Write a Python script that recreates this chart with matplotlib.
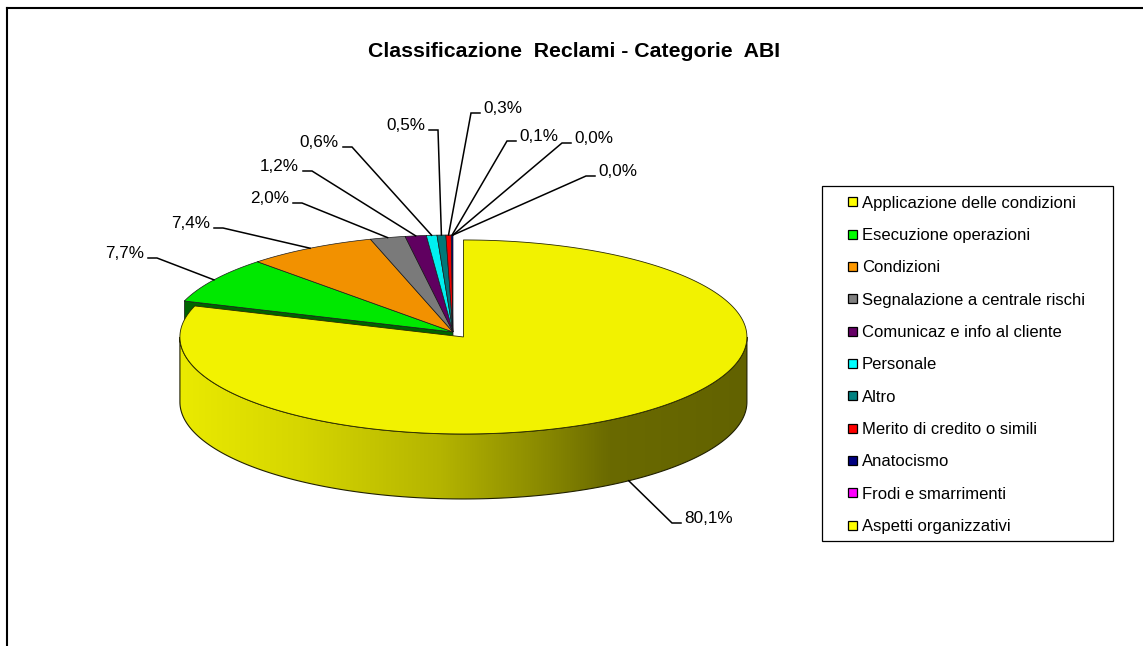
import numpy as np
import matplotlib
matplotlib.use('Agg')
import matplotlib.pyplot as plt
from matplotlib.patches import Polygon, Rectangle
from matplotlib.colors import LinearSegmentedColormap

plt.rcParams['font.family'] = ['Liberation Sans', 'DejaVu Sans']

# data
categories = ['Applicazione delle condizioni', 'Esecuzione operazioni', 'Condizioni',
              'Segnalazione a centrale rischi', 'Comunicaz e info al cliente', 'Personale',
              'Altro', 'Merito di credito o simili', 'Anatocismo', 'Frodi e smarrimenti',
              'Aspetti organizzativi']
shares = [80.1, 7.7, 7.4, 2.0, 1.2, 0.6, 0.5, 0.3, 0.1, 0.0, 0.0]
labels = ['80,1%', '7,7%', '7,4%', '2,0%', '1,2%', '0,6%', '0,5%', '0,3%', '0,1%', '0,0%', '0,0%']

# styles
base_colors = ['#FFFF00', '#00FF00', '#FF9900', '#808080', '#660066', '#00FFFF',
               '#008080', '#FF0000', '#000080', '#FF00FF', '#FFFF00']
top_colors = ['#F2F200', '#00E800', '#F29100', '#7A7A7A', '#600060', '#00F0F0',
              '#007878', '#F00000', '#000078', '#F000F0', '#F2F200']

# leader line elbows (label positions, as moved by hand in the original)
elbows = [(672, 523), (157, 258), (223, 228), (302, 203), (312, 171), (352, 147),
          (438, 130), (471, 113), (507, 141), (562, 143), (586, 176)]

W, H = 1143, 646
fig = plt.figure(figsize=(W / 100, H / 100), dpi=100)
ax = fig.add_axes([0, 0, 1, 1])

# pie geometry (pixels)
cx, cy = 453, 332
rx, ry = 283.5, 97
depth = 65
explode = 0.063

total = sum(shares)
bounds = 90 - 360 * np.cumsum([0] + shares) / total


def rim(t, x0, y0):
    t = np.radians(t)
    return x0 + rx * np.cos(t), y0 - ry * np.sin(t)


def arc(t1, t2, x0, y0, n=200):
    ts = np.linspace(t1, t2, n)
    xs, ys = rim(ts, x0, y0)
    return list(zip(xs, ys))


mids = (bounds[:-1] + bounds[1:]) / 2
ox = explode * rx * np.cos(np.radians(mids[0]))
oy = -explode * ry * np.sin(np.radians(mids[0]))
yx, yy = cx + ox, cy + oy

# visible cut face of the second slice
a1 = bounds[1]
px, py = rim(a1, cx, cy)
ax.add_patch(Polygon([(cx, cy), (px, py), (px, py + depth), (cx, cy + depth)],
                     closed=True, facecolor='#006400', edgecolor='#1a1a1a', lw=0.5, zorder=1))

# top faces of the back slices
for i in range(1, len(shares)):
    if shares[i] <= 0:
        continue
    pts = [(cx, cy)] + arc(bounds[i], bounds[i + 1], cx, cy)
    ax.add_patch(Polygon(pts, closed=True, facecolor=top_colors[i],
                         edgecolor='#1a1a1a', lw=0.5, zorder=2))

# front wall of the big slice with horizontal shading
top_arc = arc(-180, 0, yx, yy)
bot_arc = [(x, y + depth) for x, y in top_arc][::-1]
side = Polygon(top_arc + bot_arc, closed=True, facecolor='none',
               edgecolor='#202000', lw=0.8, zorder=3.5)
ax.add_patch(side)
shade = LinearSegmentedColormap.from_list(
    'side', [(0.0, '#EAEA00'), (0.21, '#D6D600'), (0.46, '#B4B400'),
             (0.63, '#8C8C00'), (0.76, '#6A6A00'), (1.0, '#626200')])
grad = np.linspace(0, 1, 512).reshape(1, -1)
im = ax.imshow(grad, cmap=shade, extent=[yx - rx, yx + rx, yy + ry + depth, yy - 5],
               aspect='auto', zorder=3, interpolation='bilinear')
im.set_clip_path(side)

# top face of the big slice
pts = [(yx, yy)] + arc(bounds[0], bounds[1], yx, yy, n=600)
ax.add_patch(Polygon(pts, closed=True, facecolor=top_colors[0],
                     edgecolor='#2a2a00', lw=0.6, zorder=4))

# data labels with leader lines
for i, (lab, (ex, ey)) in enumerate(zip(labels, elbows)):
    if i == 0:
        axp, ayp = rim(mids[0], yx, yy)
        ayp += depth
    else:
        axp, ayp = rim(mids[i], cx, cy)
    if ex < axp:
        hx = ex - 9
        ax.text(hx - 4, ey, lab, ha='right', va='baseline', fontsize=12.3, zorder=6)
    else:
        hx = ex + 9
        ax.text(hx + 3, ey, lab, ha='left', va='baseline', fontsize=12.3, zorder=6)
    ax.plot([axp, ex, hx], [ayp, ey, ey], color='black', lw=1.1, zorder=5,
            solid_joinstyle='miter')

# title
ax.text(574, 57, 'Classificazione  Reclami - Categorie  ABI', ha='center', va='baseline',
        fontsize=15.3, fontweight='bold')

# legend
ax.add_patch(Rectangle((822, 186), 291, 355, facecolor='white', edgecolor='black',
                       lw=0.9, zorder=6))
for k, name in enumerate(categories):
    ry0 = 201.7 + 32.33 * k
    ax.add_patch(Rectangle((848, ry0 - 4.5), 9, 9, facecolor=base_colors[k],
                           edgecolor='black', lw=0.9, zorder=7))
    ax.text(862, ry0 + 6, name, ha='left', va='baseline', fontsize=12, zorder=7)

# chart area border (cropped on the right and bottom)
ax.plot([7, 7], [8, H], color='black', lw=1.5, zorder=8)
ax.plot([7, W], [8, 8], color='black', lw=1.5, zorder=8)

ax.set_xlim(0, W)
ax.set_ylim(H, 0)
ax.axis('off')

fig.savefig('out.png', dpi=100)
